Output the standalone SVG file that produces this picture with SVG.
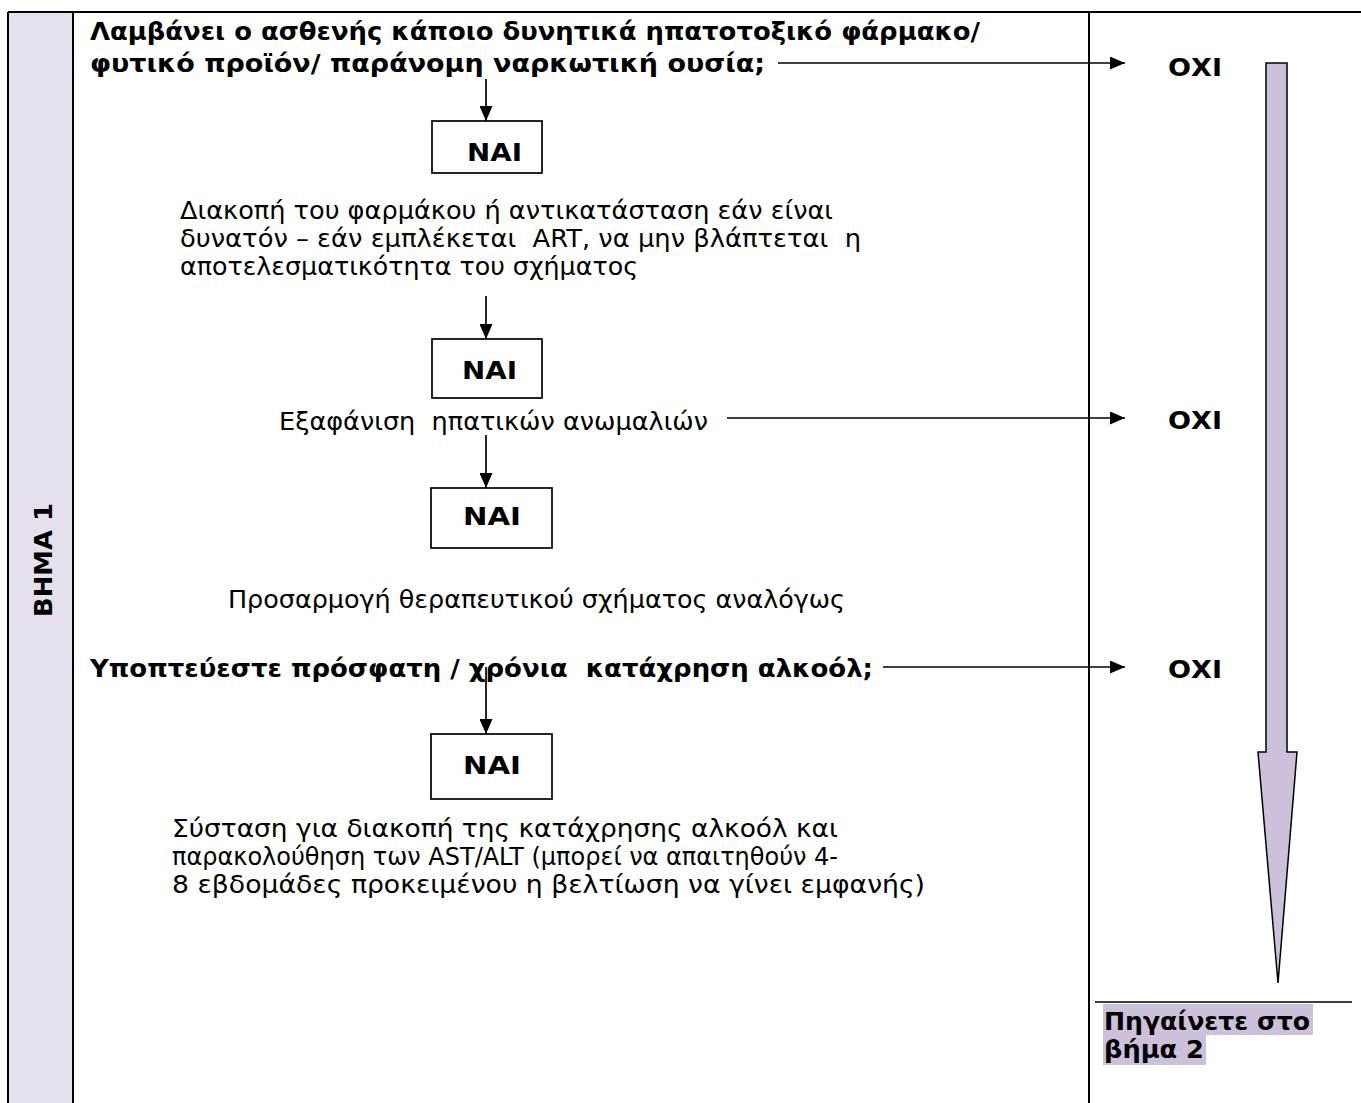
<svg xmlns="http://www.w3.org/2000/svg" width="1361" height="1103" viewBox="0 0 1361 1103">
<style>
text{white-space:pre}
.b{font-family:"DejaVu Sans","Liberation Sans",sans-serif;font-weight:bold;font-size:25px;fill:#000}
.r{font-family:"DejaVu Sans","Liberation Sans",sans-serif;font-size:25px;fill:#000}
.box{fill:#fff;stroke:#000;stroke-width:1.7}
.ln{stroke:#000;stroke-width:1.7;fill:none}
.tb{stroke:#000;stroke-width:2;fill:none}
</style>
<defs>
<marker id="ah" viewBox="0 0 15 13" refX="15" refY="6.5" markerWidth="15" markerHeight="13" markerUnits="userSpaceOnUse" orient="auto">
<path d="M0,0 L15,6.5 L0,13 Z" fill="#000"/>
</marker>
</defs>
<rect width="1361" height="1103" fill="#fff"/>
<g id="table">
<rect x="8" y="12" width="65" height="1091" fill="#e5e0ec"/>
<line class="tb" x1="8" y1="12" x2="1361" y2="12"/>
<line class="tb" x1="8" y1="12" x2="8" y2="1103"/>
<line class="tb" x1="73" y1="12" x2="73" y2="1103"/>
<line class="tb" x1="1089" y1="12" x2="1089" y2="1103"/>
<text class="b" transform="translate(52,617) rotate(-90)" textLength="114" lengthAdjust="spacingAndGlyphs">ΒΗΜΑ 1</text>
</g>
<g id="q1">
<text class="b" x="90" y="40" textLength="890" lengthAdjust="spacingAndGlyphs">Λαμβάνει ο ασθενής κάποιο δυνητικά ηπατοτοξικό φάρμακο/</text>
<text class="b" x="90" y="72" textLength="675" lengthAdjust="spacingAndGlyphs">φυτικό προϊόν/ παράνομη ναρκωτική ουσία;</text>
</g>
<g id="nai1"><rect class="box" x="432" y="121" width="110" height="52"/><text class="b" x="467" y="161" textLength="55" lengthAdjust="spacingAndGlyphs">ΝΑΙ</text></g>
<g id="a1">
<text class="r" x="180" y="219" textLength="653" lengthAdjust="spacingAndGlyphs">Διακοπή του φαρμάκου ή αντικατάσταση εάν είναι</text>
<text class="r" x="180" y="247" textLength="681" lengthAdjust="spacingAndGlyphs">δυνατόν – εάν εμπλέκεται  ART, να μην βλάπτεται  η</text>
<text class="r" x="180" y="275" textLength="458" lengthAdjust="spacingAndGlyphs">αποτελεσματικότητα του σχήματος</text>
</g>
<g id="nai2"><rect class="box" x="432" y="339" width="110" height="59"/><text class="b" x="462" y="379" textLength="55" lengthAdjust="spacingAndGlyphs">ΝΑΙ</text></g>
<g id="q2"><text class="r" x="279" y="430" textLength="429" lengthAdjust="spacingAndGlyphs">Εξαφάνιση  ηπατικών ανωμαλιών</text></g>
<g id="nai3"><rect class="box" x="431" y="488" width="121" height="60"/><text class="b" x="463" y="525" textLength="58" lengthAdjust="spacingAndGlyphs">ΝΑΙ</text></g>
<g id="a2"><text class="r" x="228" y="608" textLength="617" lengthAdjust="spacingAndGlyphs">Προσαρμογή θεραπευτικού σχήματος αναλόγως</text></g>
<g id="q3"><text class="b" x="90" y="677" textLength="783" lengthAdjust="spacingAndGlyphs">Υποπτεύεστε πρόσφατη / χρόνια  κατάχρηση αλκοόλ;</text></g>
<g id="nai4"><rect class="box" x="431" y="734" width="121" height="65"/><text class="b" x="463" y="774" textLength="58" lengthAdjust="spacingAndGlyphs">ΝΑΙ</text></g>
<g id="a3">
<text class="r" x="172" y="837" textLength="666" lengthAdjust="spacingAndGlyphs">Σύσταση για διακοπή της κατάχρησης αλκοόλ και</text>
<text class="r" x="172" y="865" textLength="666" lengthAdjust="spacingAndGlyphs">παρακολούθηση των AST/ALT (μπορεί να απαιτηθούν 4-</text>
<text class="r" x="172" y="893" textLength="753" lengthAdjust="spacingAndGlyphs">8 εβδομάδες προκειμένου η βελτίωση να γίνει εμφανής)</text>
</g>
<g id="no1"><text class="b" x="1168" y="76" textLength="54" lengthAdjust="spacingAndGlyphs">ΟΧΙ</text></g>
<g id="no2"><text class="b" x="1168" y="429" textLength="54" lengthAdjust="spacingAndGlyphs">ΟΧΙ</text></g>
<g id="no3"><text class="b" x="1168" y="678" textLength="54" lengthAdjust="spacingAndGlyphs">ΟΧΙ</text></g>
<g id="bigarrow"><path d="M1266,63 L1287,63 L1287,752 L1297,752 L1278,983 L1258,752 L1266,752 Z" fill="#ccc0da" stroke="#000" stroke-width="1.5"/></g>
<g id="goto">
<line class="ln" x1="1095" y1="1002" x2="1352" y2="1002"/>
<rect x="1103" y="1004" width="210" height="31" fill="#ccc0da"/>
<rect x="1103" y="1035" width="103" height="30" fill="#ccc0da"/>
<text class="b" x="1104" y="1030" textLength="206" lengthAdjust="spacingAndGlyphs">Πηγαίνετε στο</text>
<text class="b" x="1104" y="1058" textLength="100" lengthAdjust="spacingAndGlyphs">βήμα 2</text>
</g>
<g id="connectors">
<line class="ln" x1="778" y1="63" x2="1125" y2="63" marker-end="url(#ah)"/>
<line class="ln" x1="486" y1="79" x2="486" y2="121" marker-end="url(#ah)"/>
<line class="ln" x1="486" y1="296" x2="486" y2="339" marker-end="url(#ah)"/>
<line class="ln" x1="727" y1="418" x2="1125" y2="418" marker-end="url(#ah)"/>
<line class="ln" x1="486" y1="435" x2="486" y2="488" marker-end="url(#ah)"/>
<line class="ln" x1="883" y1="667" x2="1125" y2="667" marker-end="url(#ah)"/>
<line class="ln" x1="486" y1="667" x2="486" y2="734" marker-end="url(#ah)"/>
</g>
</svg>
